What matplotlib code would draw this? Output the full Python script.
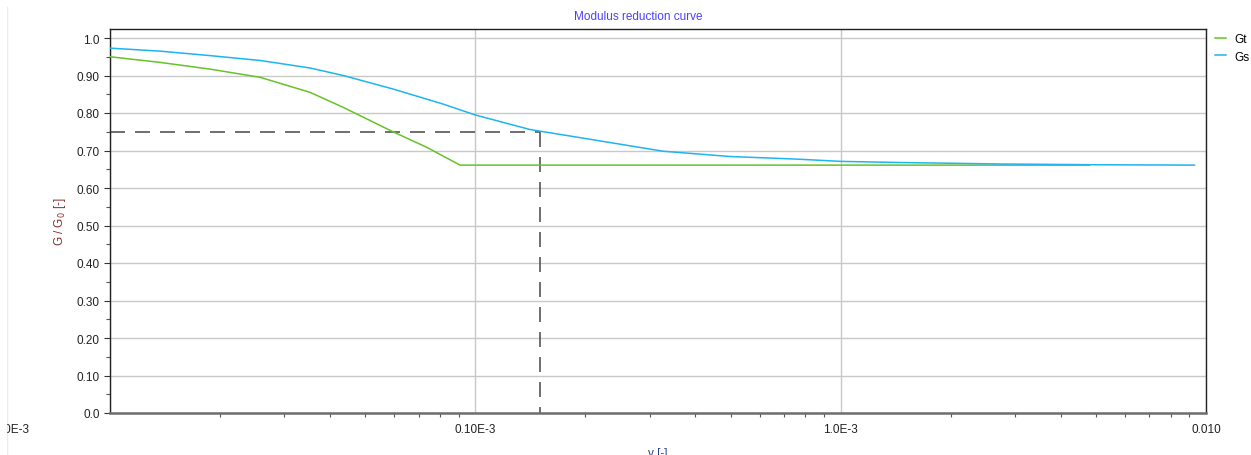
import numpy as np
import matplotlib
matplotlib.use("Agg")
import matplotlib.pyplot as plt
from matplotlib.ticker import FixedLocator, NullFormatter, LogLocator

plt.rcParams["font.family"] = ["Liberation Sans", "DejaVu Sans"]

# curve data (strain [-], G/G0 [-])
gt_strain = [1.0e-5, 1.37e-5, 1.88e-5, 2.58e-5, 3.53e-5, 4.35e-5, 5.95e-5, 7.38e-5,
             9.08e-5, 4.8e-3]
gt_ratio = [0.950, 0.935, 0.917, 0.895, 0.855, 0.815, 0.750, 0.708,
            0.661, 0.661]

gs_strain = [1.0e-5, 1.37e-5, 1.88e-5, 2.58e-5, 3.53e-5, 4.35e-5, 5.95e-5, 8.15e-5,
             9.98e-5, 1.10e-4, 1.41e-4, 2.15e-4, 3.27e-4, 4.98e-4, 7.6e-4,
             1.0e-3, 1.43e-3, 2.0e-3, 2.73e-3, 5.0e-3, 9.3e-3]
gs_ratio = [0.973, 0.965, 0.953, 0.940, 0.920, 0.900, 0.864, 0.824,
            0.795, 0.784, 0.756, 0.727, 0.698, 0.684, 0.677,
            0.671, 0.668, 0.666, 0.664, 0.662, 0.661]

ref_strain = 1.5e-4
ref_ratio = 0.75

x_ticks = [1e-5, 1e-4, 1e-3, 1e-2]
x_labels = ["", "0.10E-3", "1.0E-3", "0.010"]
y_ticks = [0.0, 0.1, 0.2, 0.3, 0.4, 0.5, 0.6, 0.7, 0.8, 0.9, 1.0]
y_labels = ["0.0", "0.10", "0.20", "0.30", "0.40", "0.50", "0.60", "0.70", "0.80", "0.90", "1.0"]

fig = plt.figure(figsize=(12.51, 4.56), dpi=100)
ax = fig.add_axes([110 / 1251, 42 / 456, 1096 / 1251, 384 / 456])

ax.plot(gt_strain, gt_ratio, color="#66c22a", lw=1.1, label="Gt", zorder=3)
ax.plot(gs_strain, gs_ratio, color="#1eb4f0", lw=1.1, label="Gs", zorder=3)

# reference point dashes
ax.plot([1e-5, ref_strain], [ref_ratio, ref_ratio], color="#555555", lw=1.2,
        dashes=(9, 6), zorder=2)
ax.plot([ref_strain, ref_strain], [ref_ratio, 0], color="#555555", lw=1.2,
        dashes=(9, 6), zorder=2)

ax.set_xscale("log")
ax.set_xlim(1e-5, 1e-2)
ax.set_ylim(0, 1.024)

ax.xaxis.set_major_locator(FixedLocator(x_ticks))
ax.set_xticklabels(x_labels)
ax.xaxis.set_minor_locator(LogLocator(base=10, subs=np.arange(2, 10)))
ax.xaxis.set_minor_formatter(NullFormatter())
ax.set_yticks(y_ticks)
ax.set_yticklabels(y_labels)
ax.set_yticks(np.arange(0.05, 1.0, 0.1), minor=True)

ax.tick_params(axis="both", which="major", labelsize=8.5, colors="#333333",
               labelcolor="#222222", length=4, width=0.8)
ax.tick_params(axis="x", which="major", length=0, pad=7)
ax.tick_params(axis="both", which="minor", length=3, width=0.8, colors="#555555")

ax.grid(True, which="major", color="#c8c8c8", lw=1.0)
for s in ["left", "top", "right"]:
    ax.spines[s].set_color("#222222")
    ax.spines[s].set_linewidth(1.0)
ax.spines["bottom"].set_color("#6e6e6e")
ax.spines["bottom"].set_linewidth(1.8)

ax.set_ylabel("G / G$_0$ [-]", color="#8b2e2e", fontsize=8.5, labelpad=6)
ax.set_xlabel("\u03b3 [-]", color="#2a3f8f", fontsize=8.5, labelpad=9)

fig.text(638 / 1251, 1 - 17 / 456, "Modulus reduction curve", color="#4a40ff",
         fontsize=8.5, ha="center", va="center")
# clipped left tick label as in the reference
fig.text(30 / 1251, 1 - 430 / 456, "0.010E-3", fontsize=8.5, color="#222222",
         ha="right", va="center")
# faint window border on the left
fig.add_artist(plt.Line2D([6.5 / 1251, 6.5 / 1251], [0, 1 - 8 / 456],
                          transform=fig.transFigure, color="#e6e6e6", lw=1))
fig.patches.append(plt.Rectangle((0, 0), 6 / 1251, 1, transform=fig.transFigure,
                                 color="white", zorder=5))

ax.legend(loc="upper left", bbox_to_anchor=(1.0, 1.015), frameon=False,
          fontsize=8.5, handlelength=0.9, handletextpad=0.7, labelspacing=0.5,
          borderaxespad=0.4)

fig.savefig("out.png", dpi=100)
